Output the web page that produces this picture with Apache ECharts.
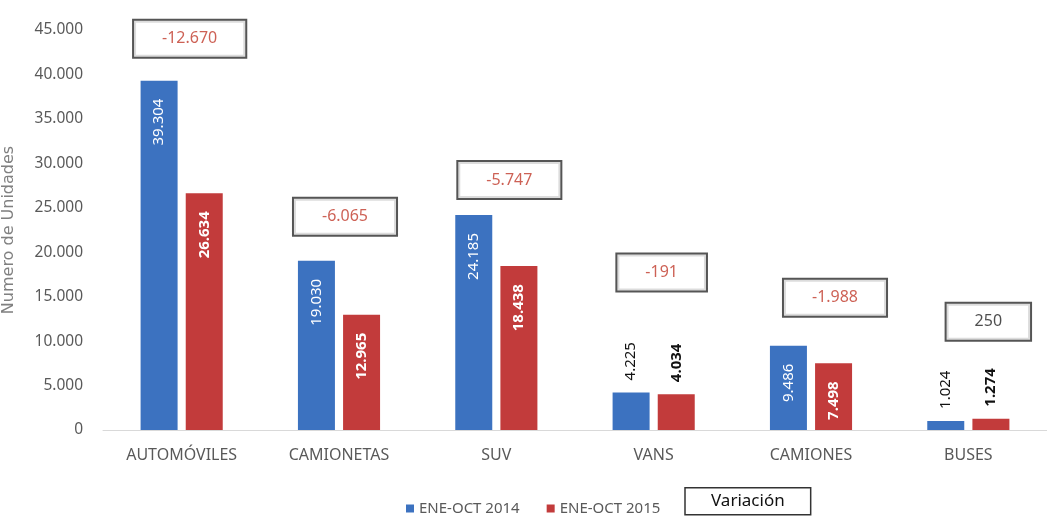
<!DOCTYPE html>
<html>
<head>
<meta charset="utf-8">
<script src="https://cdn.jsdelivr.net/npm/echarts@6/dist/echarts.min.js"></script>
<style>
  html, body { margin: 0; padding: 0; background: #fff; }
  #chart { width: 1047px; height: 518px; }
</style>
</head>
<body>
<div id="chart"></div>
<script>
var categories = ['AUTOMÓVILES', 'CAMIONETAS', 'SUV', 'VANS', 'CAMIONES', 'BUSES'];
var ventas2014 = [39304, 19030, 24185, 4225, 9486, 1024];
var ventas2015 = [26634, 12965, 18438, 4034, 7498, 1274];
var variacion = [-12670, -6065, -5747, -191, -1988, 250];

// posición de las cajas de variación (px): separación sobre la barra más alta y corrimiento horizontal
var boxGap = [24, 26, 17, 102, 30, 79];
var boxShift = [8, 6, 13, 8, 24, 20];

var BLUE = '#3c72c0';
var RED = '#c23b3b';

// 39304 -> "39.304"
function fmt(v) {
  var s = String(Math.abs(v)).replace(/\B(?=(\d{3})+(?!\d))/g, '.');
  return (v < 0 ? '-' : '') + s;
}

// etiqueta dentro de la barra salvo cuando la barra es muy baja
function barData(values, bold) {
  return values.map(function (v) {
    if (v > 5000) return v;
    return {
      value: v,
      label: {
        position: 'top',
        align: 'left',
        distance: 12,
        color: '#111',
        fontWeight: bold ? 'bold' : 'normal'
      }
    };
  });
}

var varData = variacion.map(function (d, i) {
  return {
    value: [i, Math.max(ventas2014[i], ventas2015[i])],
    label: {
      distance: boxGap[i],
      offset: [boxShift[i], 0],
      color: d < 0 ? '#c0392b' : '#222'
    }
  };
});

var chart = echarts.init(document.getElementById('chart'));
chart.setOption({
  animation: false,
  textStyle: { fontFamily: 'Noto Sans' },
  grid: { left: 103, right: 0, top: 30, bottom: 88, outerBoundsMode: 'none' },
  legend: [
    {
      left: 401,
      top: 496,
      itemGap: 27,
      itemWidth: 8,
      itemHeight: 8,
      textStyle: { color: '#595959', fontSize: 15 },
      data: [
        { name: 'ENE-OCT 2014', icon: 'rect' },
        { name: 'ENE-OCT 2015', icon: 'rect' }
      ]
    },
    {
      left: 672,
      top: 487,
      padding: 0,
      itemWidth: 8,
      itemHeight: 8,
      data: [
        {
          name: 'Variación',
          icon: 'none',
          textStyle: {
            color: '#111',
            fontSize: 17,
            borderColor: '#333',
            borderWidth: 1.5,
            padding: [5, 26, 5, 26]
          }
        }
      ]
    }
  ],
  xAxis: {
    type: 'category',
    data: categories,
    axisLine: { lineStyle: { color: '#d9d9d9' } },
    axisTick: { show: false },
    axisLabel: { color: '#595959', fontSize: 16, margin: 17 }
  },
  yAxis: {
    type: 'value',
    min: 0,
    max: 45000,
    interval: 5000,
    name: 'Numero de Unidades',
    nameLocation: 'middle',
    nameGap: 86,
    nameTextStyle: { color: '#808080', fontSize: 16, fontFamily: 'DejaVu Sans' },
    splitLine: { show: false },
    axisLine: { show: false },
    axisLabel: {
      color: '#595959',
      fontSize: 15.5,
      margin: 20,
      formatter: function (v) { return fmt(v); }
    }
  },
  series: [
    {
      name: 'ENE-OCT 2014',
      type: 'bar',
      barWidth: 37,
      barGap: '22%',
      itemStyle: { color: BLUE },
      label: {
        show: true,
        position: 'insideTop',
        rotate: 90,
        align: 'right',
        verticalAlign: 'middle',
        distance: 18,
        color: '#fff',
        fontSize: 15,
        formatter: function (p) { return fmt(p.value); }
      },
      data: barData(ventas2014, false)
    },
    {
      name: 'ENE-OCT 2015',
      type: 'bar',
      barWidth: 37,
      itemStyle: { color: RED },
      label: {
        show: true,
        position: 'insideTop',
        rotate: 90,
        align: 'right',
        verticalAlign: 'middle',
        distance: 18,
        color: '#fff',
        fontSize: 15,
        fontWeight: 'bold',
        formatter: function (p) { return fmt(p.value); }
      },
      data: barData(ventas2015, true)
    },
    {
      name: 'Variación',
      type: 'scatter',
      symbolSize: 0,
      silent: true,
      itemStyle: { color: '#333' },
      label: {
        show: true,
        position: 'top',
        fontSize: 16,
        borderColor: '#2b2b2b',
        borderWidth: 2,
        backgroundColor: '#fff',
        padding: [10, 28, 10, 28],
        formatter: function (p) { return fmt(variacion[p.dataIndex]); }
      },
      data: varData
    }
  ]
});
</script>
</body>
</html>
